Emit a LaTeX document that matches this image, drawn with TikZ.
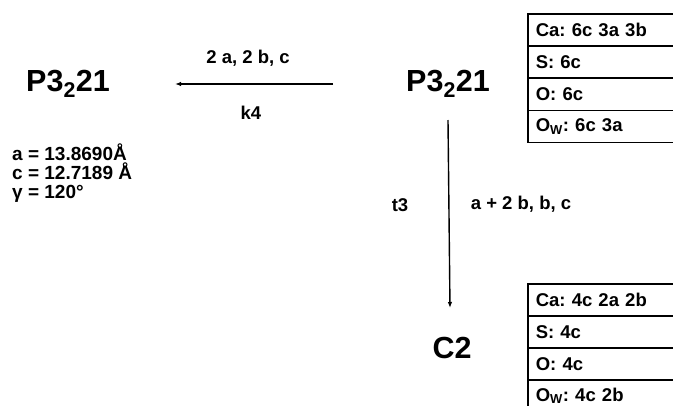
\documentclass[tikz,border=0pt]{standalone}
\usepackage{fontspec}
\setmainfont{Liberation Sans}
\usetikzlibrary{arrows.meta}
\frenchspacing
\begin{document}
\begin{tikzpicture}[x=1pt,y=-1pt,
  lbl/.style={font=\bfseries\fontsize{18.5}{21}\selectfont, inner sep=0pt},
  par/.style={font=\bfseries\fontsize{19}{21}\selectfont, inner sep=0pt, anchor=base west},
  grp/.style={font=\bfseries\fontsize{30.5}{34}\selectfont, inner sep=0pt},
  cell/.style={draw, line width=1.6pt, minimum width=160pt, minimum height=32pt,
    text width=144pt, align=left, inner xsep=8pt, inner ysep=0pt, anchor=north west,
    font=\bfseries\fontsize{18.5}{21}\selectfont},
  arr/.style={line width=1.4pt, -{Latex[length=6pt,width=4.5pt]}}]
\useasboundingbox (0,0) rectangle (673,405);
\clip (0,0) rectangle (673,405);
% groups
\node[grp] (g1) at (68,84) {P3\textsubscript{2}21};
\node[grp] (g0) at (448,84) {P3\textsubscript{2}21};
\node[grp] (g2) at (452,348) {C2};
% cell parameters
\node[par] (pa) at (12,160) {a = 13.8690Å};
\node[par] (pc) at (12,179) {c = 12.7189 Å};
\node[par] (pg) at (12,198) {γ = 120°};
% horizontal arrow
\coordinate (h0) at (333,84);
\coordinate (h1) at (175,84);
\draw[arr] (h0) -- (h1);
\node[lbl] (l1) at (248,58) {2 a, 2 b, c};
\node[lbl] (l2) at (251,113) {k4};
% vertical arrow
\coordinate (v0) at (448,120);
\coordinate (v1) at (450,308);
\draw[arr] (v0) -- (v1);
\node[lbl] (l3) at (400,205) {t3};
\node[lbl] (l4) at (521,204) {a + 2 b, b, c};
% top table
\node[cell] (t1) at (527,13) {Ca: 6c 3a 3b};
\node[cell] (t2) at (527,45.25) {S: 6c};
\node[cell] (t3) at (527,77.5) {O: 6c};
\node[cell] (t4) at (527,109.75) {O\textsubscript{W}: 6c 3a};
% bottom table
\node[cell] (b1) at (527,283) {Ca: 4c 2a 2b};
\node[cell] (b2) at (527,315) {S: 4c};
\node[cell] (b3) at (527,347) {O: 4c};
\node[cell] (b4) at (527,379) {O\textsubscript{W}: 4c 2b};
\end{tikzpicture}
\end{document}
